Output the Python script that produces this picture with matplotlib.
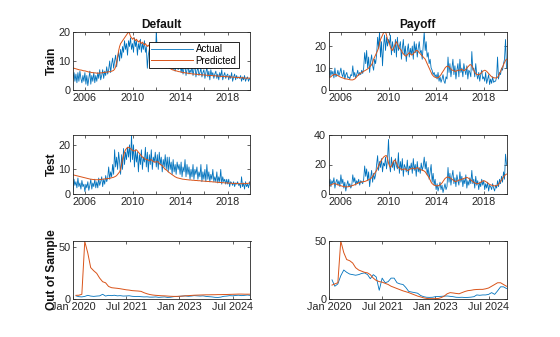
import numpy as np
import matplotlib
matplotlib.use("Agg")
import matplotlib.pyplot as plt
import matplotlib.dates as mdates

plt.rcParams["font.family"] = ["Liberation Sans", "DejaVu Sans"]

# ---------------- data ----------------
months_hist = np.arange("2005-01", "2020-01", dtype="datetime64[M]").astype("datetime64[D]")
months_oos = np.arange("2020-02", "2025-02", dtype="datetime64[M]").astype("datetime64[D]")

default_train_actual = [
    4, 6, 3, 5.5, 2.5, 6, 3, 6.5, 4, 2.5, 5, 3,
    6, 2, 5, 1.5, 4, 6.5, 2, 5, 3, 6, 2.5, 5,
    3, 6, 4, 7, 3.5, 5, 7, 4, 6.5, 5, 8, 5.5,
    7, 10, 6, 9, 11, 7.5, 10, 12, 8, 11, 13, 10,
    14, 11, 15, 13, 17, 14, 16, 12, 17, 15, 18, 14,
    16, 13, 18, 15, 17, 12, 16, 14, 17.5, 13, 16, 14,
    17, 13, 15, 7.5, 12, 14, 15.5, 11, 13, 10, 12, 9,
    20.5, 13, 10, 12, 8.5, 11, 9, 12, 8, 10.5, 7.5, 9,
    10, 7.5, 9.5, 8, 10, 7, 9, 6.5, 8.5, 10, 7, 8,
    9, 6, 8, 5.5, 7.5, 9, 5, 7, 8.5, 5.5, 7, 6,
    8, 5, 7, 9, 4.5, 6.5, 8, 5, 6, 7.5, 4.5, 6,
    7, 4, 6, 8, 4.5, 6.5, 3.5, 7, 5, 6, 4, 5.5,
    6.5, 4, 5.5, 3.5, 6, 4.5, 7, 3.5, 5, 6, 4, 5,
    5.5, 3.5, 5, 4, 6, 3, 4.5, 5.5, 3.5, 5, 4, 4.5,
    4, 5, 3, 4.5, 3.5, 5, 3, 4, 4.5, 3, 4, 3.5,
]
default_train_pred = [
    7.6, 7.5, 7.4, 7.3, 7.2, 7.1, 7.0, 6.9, 6.9, 6.8, 6.7, 6.6,
    6.6, 6.5, 6.4, 6.3, 6.2, 6.2, 6.1, 6.0, 6.0, 5.9, 5.9, 5.9,
    5.8, 5.8, 5.8, 5.9, 5.9, 5.9, 6.0, 6.0, 6.1, 6.1, 6.2, 6.2,
    6.3, 6.3, 6.4, 6.5, 6.6, 6.8, 7.2, 8.0, 9.5, 11.5, 13.5, 15,
    16, 16.5, 17, 17.5, 18, 18.5, 19, 19.5, 20, 19.5, 18.5, 18,
    17.5, 18, 17.5, 17, 17.5, 17, 16.5, 17, 16.5, 16, 16.5, 16,
    15.5, 16, 15.5, 15, 15.5, 15, 14.5, 14, 13.5, 13, 12.5, 12,
    11.5, 11, 10.5, 10, 9.5, 9.2, 9.0, 8.7, 8.5, 8.2, 8.0, 7.9,
    7.8, 7.6, 7.4, 7.2, 7.0, 6.9, 6.8, 6.7, 6.6, 6.5, 6.4, 6.3,
    6.3, 6.2, 6.1, 6.0, 6.0, 5.9, 5.9, 5.8, 5.8, 5.7, 5.7, 5.6,
    5.6, 5.5, 5.5, 5.5, 5.4, 5.4, 5.4, 5.3, 5.3, 5.3, 5.2, 5.2,
    5.2, 5.2, 5.1, 5.1, 5.1, 5.0, 5.0, 5.0, 5.0, 4.9, 4.9, 4.9,
    4.9, 4.8, 4.8, 4.8, 4.8, 4.7, 4.7, 4.7, 4.7, 4.6, 4.6, 4.6,
    4.6, 4.5, 4.5, 4.5, 4.5, 4.4, 4.4, 4.4, 4.4, 4.3, 4.3, 4.3,
    4.3, 4.2, 4.2, 4.2, 4.2, 4.1, 4.1, 4.1, 4.1, 4.1, 4.1, 4.2,
]
payoff_train_actual = [
    10, 6, 9, 7, 8.5, 5.5, 10, 6, 7, 9, 6.5, 8,
    10, 7, 6, 9, 5, 7, 8, 5.5, 6, 5, 7, 6.5,
    11, 6, 8, 5.5, 7, 9, 6.5, 8, 7, 9, 7.5, 10,
    17, 12, 18, 10, 15, 8, 13, 16, 11, 9, 14, 12,
    16, 24, 19, 26.5, 15, 22, 11, 20, 25, 18, 24, 20,
    23, 21, 25, 16, 22, 19, 17, 23, 15, 24, 18, 20,
    22, 14, 19, 23, 16, 20, 13, 18, 21, 15, 19, 16,
    20, 14, 22, 17, 21, 15, 19, 22, 17, 18, 14, 20,
    26.5, 18, 22, 15, 17, 12, 14, 10, 9, 7, 8, 6,
    7, 5, 8, 4, 6, 3.5, 5, 7, 4, 3, 6, 5,
    15, 8, 12, 6, 10, 14, 7, 11, 5, 9, 12, 6,
    14, 8, 10, 6, 12, 9, 7, 11, 5, 9, 8, 6,
    17.5, 9, 10, 6, 12, 7, 5, 8, 4, 7, 9, 5,
    6, 4, 8, 3, 5, 7, 2.5, 5, 3, 6, 3.5, 4,
    4, 6, 15, 5, 8, 7, 10, 9, 12, 14, 23, 10,
]
payoff_train_pred = [
    6, 5.8, 6, 6.5, 6.8, 7, 7.2, 7, 6.8, 6.5, 6.3, 6,
    5.8, 5.6, 5.5, 5.3, 5.2, 5, 5, 4.9, 4.8, 4.7, 4.6, 4.6,
    4.6, 4.8, 5, 5.5, 6, 6.5, 7, 7.3, 7.6, 8, 8.2, 8.5,
    8.8, 9, 9.3, 9.6, 10, 10.5, 11, 11.5, 12.5, 14, 15, 16,
    17, 18, 19, 21, 23, 24, 25, 26, 26.4, 26.4, 25, 23,
    22, 21, 19.5, 18.5, 18, 19, 20, 21, 22, 21, 20, 19,
    18.5, 18, 17, 16.5, 16, 15.5, 15.5, 16, 16.5, 17, 16.5, 16,
    16, 16.5, 17, 17.5, 18, 18, 17.5, 17, 16.5, 16, 15.5, 15,
    14.5, 14, 13, 12, 11, 10, 9, 8, 7, 6.5, 6, 5.8,
    5.6, 5.5, 5.6, 6, 6.5, 7, 7.8, 8.5, 9.2, 10, 10.5, 10.8,
    10.8, 10.5, 10, 9.5, 9, 9, 8.8, 8.5, 8.5, 8.8, 9, 9,
    9, 9.2, 9.5, 9, 8.8, 9, 9.5, 10, 10.5, 11, 11.5, 11.5,
    11, 10, 9, 8, 7.5, 7, 7, 7, 7.2, 7.5, 8, 8.5,
    8.8, 9, 8.8, 8.5, 8, 7.5, 7, 6.5, 6, 5.8, 5.6, 5.5,
    5.5, 5.5, 5.8, 6.5, 7.5, 8.5, 9.5, 10.5, 11.5, 12.5, 13.5, 14,
]
default_test_actual = [
    1, 6, 3.5, 5, 2.5, 6.5, 3, 4.5, 2, 5.5, 3, 4,
    1, 4, 2.5, 5, 1.5, 3.5, 6, 2, 4.5, 3, 6, 2.5,
    5, 2.5, 6.5, 3.5, 5, 7, 3, 6, 4, 7.5, 5, 6.5,
    11, 6, 9, 7, 12, 8, 18, 11, 15, 10, 17, 13,
    8, 16, 10, 18.5, 12, 17, 14, 19, 15, 20, 13, 24,
    14, 20, 11, 18, 13, 17, 9, 16, 12, 18, 10, 15,
    13, 19, 11, 17, 9, 16, 12, 18, 10, 15, 13, 17,
    11, 16, 10, 17, 12, 15, 9, 14, 11, 16, 10, 15,
    9, 15, 10, 13, 8, 14, 9, 12, 8, 13, 10, 12,
    8, 13, 7, 11, 9, 14, 7, 12, 8, 11, 6, 10,
    7, 12, 6, 10, 8, 11, 6, 9, 7, 12, 5, 9,
    6, 10, 5, 12, 6, 9, 5, 8, 6, 10, 5, 7,
    5, 9, 4.5, 7, 5, 10, 4, 7, 5, 6, 4, 6,
    4, 6, 3, 5, 4.5, 3.5, 5, 3, 4.5, 4, 5, 3.5,
    4, 2.5, 7, 3, 4.5, 2, 5, 3, 4, 2.5, 5, 3,
]
default_test_pred = [
    7.8, 7.7, 7.6, 7.5, 7.4, 7.3, 7.2, 7.1, 7.0, 6.9, 6.8, 6.7,
    6.6, 6.5, 6.4, 6.3, 6.2, 6.1, 6.0, 6.0, 5.9, 5.9, 5.8, 5.8,
    5.8, 5.8, 5.8, 5.9, 5.9, 6.0, 6.0, 6.1, 6.1, 6.2, 6.2, 6.3,
    6.3, 6.4, 6.5, 6.6, 6.7, 6.8, 7.0, 7.2, 7.5, 8.0, 8.5, 9.0,
    10, 12, 14, 15.5, 17, 18, 18.5, 19, 19, 18.8, 18.5, 18,
    17.8, 17.5, 17.5, 17.8, 18, 17.5, 17, 16.5, 16, 15.5, 15, 14.8,
    14.5, 14.2, 14, 14, 13.8, 13.5, 13.8, 14, 13.5, 13.2, 13, 13,
    13, 13.2, 13, 12.5, 12, 11.8, 11.5, 11, 10.5, 10, 9.8, 9.5,
    9.0, 8.7, 8.4, 8.1, 7.8, 7.5, 7.2, 7.0, 6.8, 6.6, 6.5, 6.4,
    6.3, 6.2, 6.1, 6.0, 6.0, 5.9, 5.9, 5.8, 5.8, 5.7, 5.7, 5.7,
    5.6, 5.6, 5.6, 5.5, 5.5, 5.5, 5.4, 5.4, 5.4, 5.3, 5.3, 5.3,
    5.2, 5.2, 5.2, 5.1, 5.1, 5.1, 5.0, 5.0, 5.0, 4.9, 4.9, 4.9,
    4.8, 4.8, 4.8, 4.7, 4.7, 4.7, 4.6, 4.6, 4.6, 4.5, 4.5, 4.5,
    4.5, 4.4, 4.4, 4.4, 4.4, 4.3, 4.3, 4.3, 4.3, 4.3, 4.2, 4.2,
    4.2, 4.2, 4.2, 4.2, 4.2, 4.2, 4.3, 4.3, 4.3, 4.4, 4.4, 4.5,
]
payoff_test_actual = [
    6, 10, 5, 9, 7, 11, 4, 8, 10, 6, 9, 5,
    13, 7, 10, 4, 8, 2, 6, 9, 5, 7, 4, 6,
    13, 8, 11, 6, 9, 7, 10, 6, 9, 8, 7, 10,
    19, 12, 17, 9, 15, 5, 11, 16, 8, 14, 10, 13,
    20, 26, 16, 22, 18, 24, 15, 21, 19, 25, 17, 23,
    37, 20, 15, 25, 18, 22, 16, 24, 19, 17, 28, 14,
    22, 16, 24, 12, 20, 18, 15, 23, 13, 19, 17, 21,
    14, 24, 16, 20, 12, 22, 15, 18, 14, 21, 16, 19,
    25, 17, 22, 13, 18, 10, 15, 20, 8, 14, 6, 10,
    3, 7, 2, 5, 8, 3, 6, 1, 4, 7, 3, 5,
    18, 8, 14, 6, 12, 16, 7, 11, 5, 13, 9, 6,
    15, 8, 12, 5, 10, 7, 13, 4, 9, 6, 11, 7,
    16, 7, 10, 4, 12, 6, 9, 3, 8, 5, 10, 6,
    9, 3, 7, 4, 8, 2, 6, 5, 3, 7, 4, 2,
    6, 4, 9, 5, 10, 7, 12, 8, 15, 10, 27, 20,
]
payoff_test_pred = [
    5.5, 5.8, 6.2, 6.5, 6.8, 7, 7, 6.8, 6.5, 6.3, 6, 5.8,
    5.6, 5.4, 5.2, 5, 4.9, 4.8, 4.8, 4.9, 5, 5.2, 5.4, 5.6,
    5.8, 6, 6.3, 6.6, 7, 7.3, 7.6, 7.8, 8, 8.2, 8.3, 8.5,
    8.5, 8.7, 9, 9.3, 9.6, 10, 10.5, 11, 12, 13, 14, 15,
    16, 17.5, 19, 20.5, 22, 23, 24, 25, 25.5, 26, 26, 24,
    21, 19, 18, 19, 20.5, 22, 23, 22.5, 21, 19.5, 18, 17.5,
    17, 17, 16.5, 16.5, 17, 17, 16.5, 16, 16, 16.5, 17, 17,
    17.5, 17.5, 17, 17, 17.5, 18, 17.5, 17, 16.5, 16.5, 16, 16,
    15.5, 15, 14, 13, 12, 11, 9.5, 8, 7, 6.5, 6, 5.8,
    5.6, 5.5, 5.6, 5.8, 6.2, 6.8, 7.5, 8.5, 9.5, 10.5, 11, 11.5,
    11.5, 11.2, 11, 10.5, 10, 9.5, 9, 8.5, 8.5, 8.8, 9, 9.5,
    9.5, 9.8, 10, 10.3, 10.5, 10.8, 11, 11.2, 11, 10.5, 10, 9.5,
    9, 8.5, 8, 7.5, 7.2, 7, 7, 7.2, 7.5, 8, 8.5, 8.8,
    9, 8.8, 8.5, 8, 7.5, 7, 6.5, 6.2, 6, 5.8, 5.6, 5.5,
    5.5, 5.7, 6, 6.5, 7.5, 8.5, 9.5, 10.5, 11.5, 12.5, 13, 13.5,
]
default_oos_actual = [
    3, 2.2, 2, 2.5, 3.5, 2.8, 2.5, 2.8, 3, 4.5, 2.8, 3.5,
    3.2, 3.6, 3.0, 3.2, 2.8, 2.9, 3.1, 2.6, 2.4, 2.5, 2.2, 2.0,
    2.1, 1.8, 1.8, 2.0, 1.6, 1.8, 2, 1.5, 1.7, 2.2, 2.4, 2.6,
    2.8, 3.0, 2.6, 2.8, 3.2, 3.0, 2.8, 3.0, 2.5, 2.2, 2.0, 1.6,
    1.5, 1.8, 2.6, 2.8, 3.2, 3.0, 3.4, 3.6, 3.2, 3.5, 3.8, 3.4,
]
default_oos_pred = [
    3.5, 3.6, 4.5, 55, 44, 30, 27, 24.5, 20, 16.5, 15.5, 12,
    10.8, 10.5, 10.2, 9.8, 9.3, 8.8, 8.5, 8, 7.8, 7.6, 7.3, 6,
    5, 4.3, 3.8, 3.5, 3.3, 3.1, 3, 2.8, 2.6, 2.5, 2.5, 2.6,
    2.8, 3, 3.2, 3.4, 3.6, 3.7, 3.8, 3.9, 4, 4, 4.1, 4.1,
    4.2, 4.2, 4.3, 4.3, 4.4, 4.5, 4.6, 4.7, 4.7, 4.6, 4.6, 4.6,
]
payoff_oos_actual = [
    16.5, 11, 13, 20, 25, 23, 21.5, 21, 20.5, 21, 22, 22.5,
    21, 17.5, 21, 19, 7.5, 18, 14, 15, 18, 18, 14, 13,
    12.5, 10, 6.5, 6, 5.5, 5, 3, 2, 1.5, 1.4, 1.5, 2,
    2.2, 2.3, 2.5, 2.6, 2.3, 2, 1.5, 1.4, 1.5, 1.3, 1.4, 1.6,
    2, 3.5, 3.2, 3.5, 3.5, 4, 5.5, 4, 7, 10.5, 10.5, 9,
]
payoff_oos_pred = [
    12, 13, 14, 50, 40, 34, 33, 31, 27, 25, 24, 23,
    22.5, 21, 18, 16, 15, 14.5, 13.5, 12.5, 11, 10, 9, 8,
    7, 6.3, 5.5, 4.5, 3.5, 2.5, 1.8, 1.0, 0.5, 0.3, 0.3, 0.3,
    0.5, 1.2, 2.5, 4.5, 5.5, 5.2, 4.8, 4.5, 5.5, 6.5, 7.2, 7.5,
    8, 8.2, 8.3, 8.3, 8.8, 9.5, 11, 12.5, 14, 14, 12.5, 11,
]

hist_ticks = np.array(["2006-01-01", "2008-01-01", "2010-01-01", "2012-01-01",
                       "2014-01-01", "2016-01-01", "2018-01-01"], dtype="datetime64[D]")
hist_labels = ["2006", "", "2010", "", "2014", "", "2018"]
oos_ticks = np.array(["2020-01-01", "2021-07-01", "2023-01-01", "2024-07-01"],
                     dtype="datetime64[D]")
oos_labels = ["Jan 2020", "Jul 2021", "Jan 2023", "Jul 2024"]

# ---------------- styling ----------------
BLUE = "#0072BD"
ORANGE = "#D95319"
AXC = "#262626"

fig = plt.figure(figsize=(5.6, 3.37), dpi=100)
fig.patch.set_facecolor("white")

lefts = [73 / 560, 329 / 560]
width = 177.5 / 560
rows = [(32, 90), (135, 194), (241, 299)]


def make_ax(col, row):
    top, bot = rows[row]
    ax = fig.add_axes([lefts[col], 1 - bot / 337, width, (bot - top) / 337])
    for sp in ax.spines.values():
        sp.set_color(AXC)
        sp.set_linewidth(0.6)
    ax.tick_params(direction="in", length=2.2, width=0.5, colors=AXC,
                   labelsize=7.8, pad=2, top=True, right=True)
    return ax


panels = [
    (0, 0, default_train_actual, default_train_pred, (0, 20), [0, 10, 20]),
    (1, 0, payoff_train_actual, payoff_train_pred, (0, 26.4), [0, 10, 20]),
    (0, 1, default_test_actual, default_test_pred, (0, 24), [0, 10, 20]),
    (1, 1, payoff_test_actual, payoff_test_pred, (0, 40), [0, 20, 40]),
    (0, 2, default_oos_actual, default_oos_pred, (0, 55.4), [0, 50]),
    (1, 2, payoff_oos_actual, payoff_oos_pred, (0, 50), [0, 50]),
]

axes = {}
for col, row, act, pred, ylim, yt in panels:
    ax = make_ax(col, row)
    x = months_oos if row == 2 else months_hist
    ax.plot(x, act, color=BLUE, lw=0.6, label="Actual")
    ax.plot(x, pred, color=ORANGE, lw=0.7, label="Predicted")
    ax.set_ylim(*ylim)
    ax.set_yticks(yt)
    if row == 2:
        ax.set_xlim(np.datetime64("2020-01-01"), np.datetime64("2025-01-01"))
        ax.set_xticks(mdates.date2num(oos_ticks))
        ax.set_xticklabels(oos_labels)
    else:
        ax.set_xlim(months_hist[0], months_hist[-1])
        ax.set_xticks(mdates.date2num(hist_ticks))
        ax.set_xticklabels(hist_labels)
    axes[(col, row)] = ax

axes[(0, 0)].set_title("Default", fontsize=8.6, fontweight="bold", pad=3, color="#111111")
axes[(1, 0)].set_title("Payoff", fontsize=8.6, fontweight="bold", pad=3, color="#111111")

for row, name in enumerate(["Train", "Test", "Out of Sample"]):
    ax = axes[(0, row)]
    ax.set_ylabel(name, fontsize=8.6, fontweight="bold", color="#111111")
    ax.yaxis.set_label_coords(-0.085, 0.5)

leg = axes[(0, 0)].legend(loc="upper right", bbox_to_anchor=(0.935, 0.83),
                          fontsize=7, frameon=True, fancybox=False,
                          edgecolor="black", framealpha=1, borderpad=0.25,
                          labelspacing=0.15, handlelength=4.3, handletextpad=0.3,
                          borderaxespad=0)
leg.get_frame().set_linewidth(0.6)

fig.savefig("out.png", dpi=100, facecolor="white")
